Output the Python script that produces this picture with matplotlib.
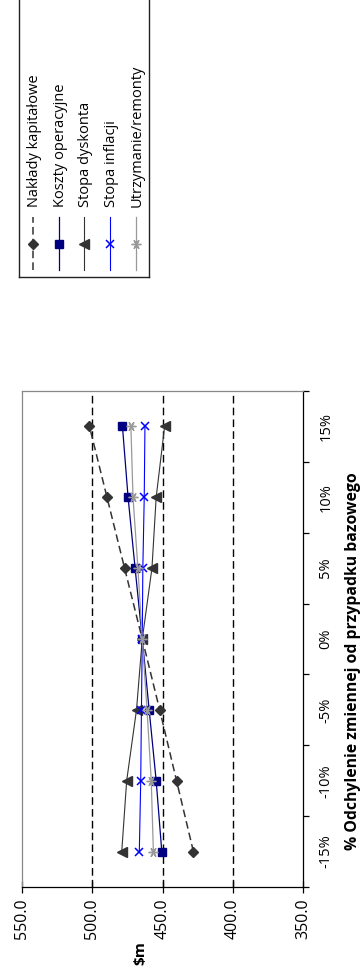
import matplotlib
matplotlib.use("Agg")
import matplotlib.pyplot as plt
import numpy as np

plt.rcParams['font.family'] = ['Open Sans', 'DejaVu Sans']
plt.rcParams['lines.scale_dashes'] = False

# Sensitivity of the cost estimate ($m) to each input variable
pct_labels = ['-15%', '-10%', '-5%', '0%', '5%', '10%', '15%']
capex = [428.0, 440.0, 452.0, 464.4, 477.0, 489.5, 502.0]
opex = [450.5, 454.5, 459.5, 464.4, 469.5, 474.5, 478.5]
discount = [479.0, 475.5, 468.5, 464.4, 457.5, 454.5, 448.5]
inflation = [466.5, 465.5, 465.0, 464.4, 464.0, 463.0, 462.5]
maintenance = [456.5, 458.0, 461.0, 464.4, 467.5, 471.0, 472.5]

series_names = ['Nakłady kapitałowe', 'Koszty operacyjne', 'Stopa dyskonta',
                'Stopa inflacji', 'Utrzymanie/remonty']
value_ticks = [550, 500, 450, 400, 350]

dash = (0, (5.5, 3.0))
styles = [
    dict(color='#333333', ls=dash, lw=1.1, marker='D', ms=5.0),
    dict(color='#000080', ls='-', lw=0.9, marker='s', ms=5.5),
    dict(color='#333333', ls='-', lw=0.8, marker='<', ms=6.5),
    dict(color='#0000ff', ls='-', lw=0.8, marker='x', ms=6, mew=1.1),
    dict(color='#999999', ls='-', lw=0.9, marker=(6, 2, 90), ms=7, mew=1.0),
]

fig = plt.figure(figsize=(3.63, 9.77), dpi=100)
ax = fig.add_axes([22 / 363, 90 / 977, 281 / 363, 496 / 977])

pos = np.arange(len(pct_labels))
for vals, name, st in zip([capex, opex, discount, inflation, maintenance],
                          series_names, styles):
    ax.plot(vals, pos, label=name, **st)

# dashed gridlines at the inner value ticks
for v in value_ticks[1:-1]:
    ax.axvline(v, color='black', lw=1.0, ls=dash, zorder=0.5)

ax.set_xlim(550, 350)
ax.set_ylim(-0.5, len(pct_labels) - 0.5)

ax.set_xticks(value_ticks, ['%.1f' % v for v in value_ticks], rotation=90)
ax.tick_params(axis='x', direction='inout', length=8.5, width=0.9,
               pad=4, labelsize=11.5)

ax.yaxis.set_ticks_position('right')
ax.set_yticks(np.arange(-0.5, len(pct_labels)), [''] * (len(pct_labels) + 1))
ax.set_yticks(pos, pct_labels, minor=True, rotation=90, va='center')
ax.tick_params(axis='y', which='major', direction='out', length=4, width=0.9)
ax.tick_params(axis='y', which='minor', length=0, pad=11, labelsize=10.5)

for side in ['left', 'top']:
    ax.spines[side].set_color('#888888')
    ax.spines[side].set_linewidth(0.9)
for side in ['bottom', 'right']:
    ax.spines[side].set_color('black')
    ax.spines[side].set_linewidth(0.9)

fig.text(140 / 363, 1 - 953 / 977, '$m', rotation=90, ha='center', va='center',
         fontsize=11, fontweight='bold')
fig.text(353 / 363, 1 - 661 / 977, '% Odchylenie zmiennej od przypadku bazowego',
         rotation=90, ha='center', va='center', fontsize=11.3, fontweight='bold')

# legend box, drawn by hand so it reads sideways like the rest
lax = fig.add_axes([19 / 363, 700 / 977, 130 / 363, 300 / 977])
lax.set_xlim(0, 130)
lax.set_ylim(0, 300)
lax.set_xticks([])
lax.set_yticks([])
for s in lax.spines.values():
    s.set_color('#222222')
    s.set_linewidth(1.0)
for i, (name, st) in enumerate(zip(series_names, styles)):
    x = 14 + i * 25.7
    line_st = {k: st[k] for k in ('color', 'ls', 'lw')}
    lax.plot([x, x], [7, 60], **line_st)
    mk_st = {k: v for k, v in st.items() if k not in ('ls', 'lw')}
    lax.plot([x], [33], ls='none', **mk_st)
    lax.text(x + 1.5, 70, name, rotation=90, ha='center', va='bottom',
             fontsize=10.5)

fig.savefig('out.png', dpi=100)
